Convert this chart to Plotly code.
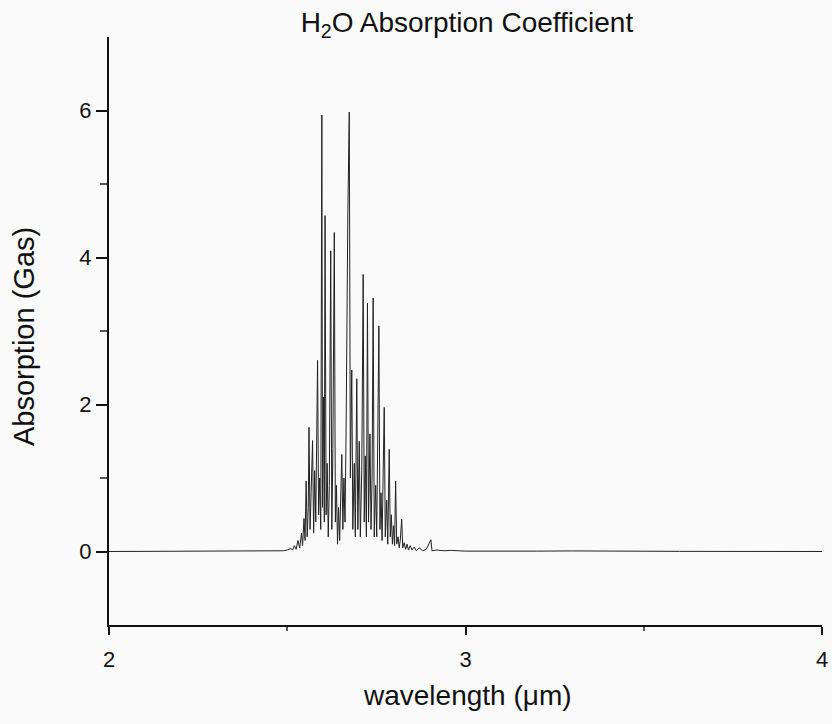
import plotly.graph_objects as go

wavelength = [
    2.000, 2.450, 2.490, 2.500, 2.510, 2.515, 2.520, 2.525, 2.530, 2.535,
    2.540, 2.543, 2.547, 2.550, 2.553, 2.556, 2.559, 2.561, 2.564, 2.567,
    2.571, 2.574, 2.577, 2.580, 2.582, 2.585, 2.588, 2.591, 2.594, 2.597,
    2.599, 2.602, 2.604, 2.606, 2.609, 2.612, 2.615, 2.618, 2.622, 2.625,
    2.628, 2.632, 2.635, 2.638, 2.641, 2.644, 2.647, 2.650, 2.653, 2.656,
    2.659, 2.662, 2.665, 2.670, 2.674, 2.677, 2.681, 2.684, 2.688, 2.691,
    2.695, 2.698, 2.702, 2.705, 2.709, 2.713, 2.716, 2.719, 2.722, 2.725,
    2.728, 2.732, 2.735, 2.738, 2.741, 2.744, 2.748, 2.751, 2.754, 2.757,
    2.760, 2.763, 2.766, 2.769, 2.772, 2.775, 2.779, 2.782, 2.786, 2.789,
    2.792, 2.795, 2.798, 2.801, 2.804, 2.807, 2.811, 2.814, 2.817, 2.821,
    2.824, 2.828, 2.832, 2.836, 2.840, 2.845, 2.850, 2.856, 2.862, 2.870,
    2.880, 2.890, 2.903, 2.906, 2.920, 2.940, 2.960, 3.000, 3.100, 3.200,
    3.300, 3.400, 3.600, 4.000,
]
absorption = [
    0.0, 0.005, 0.01, 0.02, 0.04, 0.02, 0.08, 0.03, 0.15, 0.05,
    0.25, 0.08, 0.45, 0.15, 0.96, 0.2, 0.6, 1.69, 0.3, 0.8,
    1.51, 0.25, 1.1, 0.4, 1.3, 2.60, 0.5, 1.0, 0.3, 5.94,
    0.6, 2.1, 0.4, 4.57, 0.5, 1.2, 0.2, 0.9, 4.09, 0.3,
    1.4, 4.34, 0.4, 0.9, 0.1, 0.6, 0.15, 0.8, 1.32, 0.3,
    1.0, 0.4, 1.6, 4.63, 5.98, 1.0, 2.47, 0.3, 1.2, 0.2,
    2.35, 0.3, 1.5, 0.2, 1.1, 3.77, 0.4, 1.3, 0.2, 3.38,
    0.4, 1.60, 0.3, 1.0, 3.45, 0.2, 0.9, 0.2, 1.3, 3.07,
    0.3, 0.8, 0.15, 1.1, 1.96, 0.2, 0.7, 0.1, 1.39, 0.2,
    0.5, 0.1, 0.35, 0.08, 0.96, 0.1, 0.2, 0.05, 0.15, 0.44,
    0.05, 0.12, 0.03, 0.1, 0.02, 0.08, 0.02, 0.06, 0.01, 0.05,
    0.01, 0.03, 0.16, 0.01, 0.02, 0.01, 0.015, 0.005, 0.01, 0.005,
    0.008, 0.003, 0.002, 0.0,
]

x_ticks = [2, 3, 4]
x_minor = [2.5, 3.5]
y_ticks = [0, 2, 4, 6]
y_minor = [1, 3, 5]

title_text = "H<sub>2</sub>O Absorption Coefficient"
x_title = "wavelength (\u03bcm)"
y_title = "Absorption (Gas)"

font = "Liberation Sans, Arial, sans-serif"
ink = "#111111"

fig = go.Figure()
fig.add_trace(go.Scatter(
    x=wavelength, y=absorption, mode="lines",
    line=dict(color="#222222", width=1),
    showlegend=False, hoverinfo="skip",
))

fig.update_layout(
    width=832, height=724,
    margin=dict(l=109, r=10, t=37, b=99, autoexpand=False),
    paper_bgcolor="#fafafa", plot_bgcolor="#fafafa",
    title=dict(text=title_text, x=0.502, xanchor="center", xref="paper",
               y=0.969, yref="container", yanchor="middle",
               font=dict(family=font, size=28, color=ink)),
    font=dict(family=font, color=ink),
    annotations=[
        dict(text=x_title, xref="paper", yref="paper", x=0.5035, y=-0.1207,
             xanchor="center", yanchor="middle", showarrow=False,
             font=dict(family=font, size=28, color=ink)),
        dict(text=y_title, xref="paper", yref="paper", x=-0.119, y=0.49,
             xanchor="center", yanchor="middle", showarrow=False, textangle=-90,
             font=dict(family=font, size=29, color=ink)),
    ],
)
fig.update_xaxes(
    range=[2, 4], tickvals=x_ticks, ticktext=[str(v) for v in x_ticks],
    showgrid=False, zeroline=False, showline=True, linecolor=ink, linewidth=2,
    ticks="outside", ticklen=8, tickwidth=1.5, tickcolor=ink, ticklabelstandoff=6,
    minor=dict(tickvals=x_minor, ticks="outside", ticklen=4, tickcolor="#555"),
    tickfont=dict(size=22, color=ink), automargin=False,
)
fig.update_yaxes(
    range=[-1, 7], tickvals=y_ticks, ticktext=[str(v) for v in y_ticks],
    showgrid=False, zeroline=False, showline=True, linecolor=ink, linewidth=2,
    ticks="outside", ticklen=11, tickwidth=1.5, tickcolor=ink, ticklabelstandoff=0,
    minor=dict(tickvals=y_minor, ticks="outside", ticklen=7, tickcolor="#555"),
    tickfont=dict(size=22, color=ink), automargin=False,
)

fig.write_html("out.html", config={"displayModeBar": False},
               post_script="document.body.style.margin='0';")
